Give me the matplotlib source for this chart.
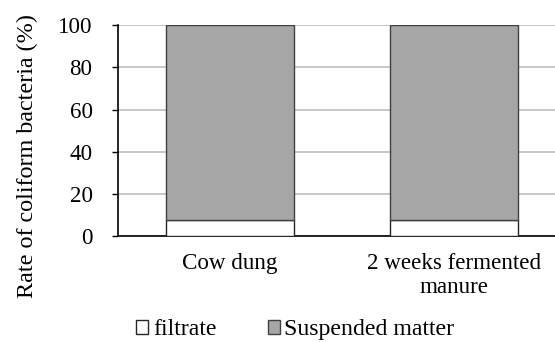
import matplotlib
matplotlib.use('Agg')
import matplotlib.pyplot as plt
import numpy as np

# Dados do grafico
categorias = ['Cow dung', '2 weeks fermented\nmanure']
filtrate = [7.6, 7.7]
suspended = [92.4, 92.3]
yticks = [0, 20, 40, 60, 80, 100]

plt.rcParams['font.family'] = ['Liberation Serif', 'DejaVu Serif']
fs = 16.6

fig = plt.figure(figsize=(5.55, 3.42), dpi=100)
ax = fig.add_axes([0.213, 0.310, 0.807, 0.616])

x = np.arange(len(categorias))
largura = 0.57
ax.bar(x, filtrate, largura, color='white', edgecolor='#262626', linewidth=1,
       label='filtrate', zorder=3)
ax.bar(x, suspended, largura, bottom=filtrate, color='#a6a6a6', edgecolor='#404040',
       linewidth=1, label='Suspended matter', zorder=3)

ax.set_xlim(-0.5, 1.5)
ax.set_ylim(0, 100)
ax.set_yticks(yticks)
ax.set_xticks(x)
ax.set_xticklabels(categorias, fontsize=fs, linespacing=1.15)
ax.tick_params(axis='y', labelsize=fs, length=4.5, width=1, direction='out', pad=14)
ax.tick_params(axis='x', length=0, pad=12.5)
ax.yaxis.grid(True, color='#bfbfbf', linewidth=1.2, zorder=0)
ax.set_axisbelow(True)

for lado in ['top', 'right']:
    ax.spines[lado].set_visible(False)
ax.spines['left'].set_linewidth(1.2)
ax.spines['bottom'].set_linewidth(1.2)

ax.set_ylabel('Rate of coliform bacteria (%)', fontsize=17.4)
ax.yaxis.set_label_coords(-0.18, 0.38)

# legenda no rodape
fig.legend(loc='lower center', bbox_to_anchor=(0.532, -0.058), ncol=2, frameon=False,
           fontsize=17.2, handlelength=0.5, handleheight=0.5, handletextpad=0.2,
           columnspacing=2.15)

fig.savefig('out.png', dpi=100)
